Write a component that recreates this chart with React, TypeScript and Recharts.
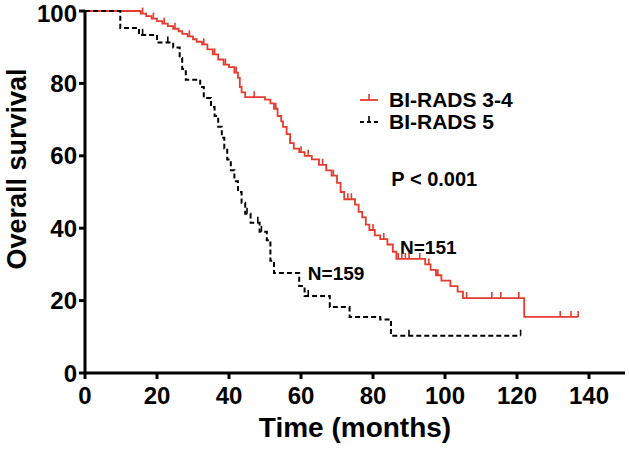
import React from 'react';
import {
  LineChart,
  Line,
  XAxis,
  YAxis,
  Legend,
  ReferenceDot,
  Label,
} from 'recharts';

// BI-RADS 3-4 (red): event times (months) and survival after each event
const redEventTimes = [0, 15.5, 17, 18.5, 20, 21.5, 23, 24.5, 26, 27, 28.5, 30, 31, 32.5, 34, 35.5, 37, 38.5, 40, 41.5, 42.5, 43, 43.5, 44.5, 50, 51.5, 52.5, 53.5, 54.5, 55, 56, 57, 58, 59.5, 61, 63, 65, 67, 68.5, 70, 71, 72, 75, 76, 77, 78, 79, 80.5, 82, 84, 85.5, 86.5, 94.5, 96, 97.5, 99, 101.5, 103.5, 105, 122];
const redEventSurvival = [100, 99.3, 98.6, 97.9, 97.2, 96.5, 95.8, 95.1, 94.4, 93.7, 93.0, 92.2, 91.5, 90.8, 89.4, 88.0, 86.6, 85.2, 84.5, 83.0, 81.5, 79, 77.5, 76.2, 75.5, 74.5, 73, 71, 69.5, 68, 66, 63.5, 62, 61, 60, 59, 57.5, 56, 54.5, 52.5, 50, 48, 46.5, 44.5, 43, 41, 39.5, 38, 37, 35.5, 33.5, 31.5, 30, 28.5, 27, 25.5, 24, 22.5, 20.7, 15.5];
const redCensorTimes = [16, 19, 22, 25, 29, 33, 36, 39, 42, 47, 53, 57, 60, 62, 66, 69, 73, 74, 80, 83, 87, 88, 89, 90, 93, 95.5, 98, 106, 113, 115.5, 120.5, 132, 135, 137];

// BI-RADS 5 (black dashed)
const blackEventTimes = [0, 9.8, 15, 20, 24.5, 26.3, 27, 28, 32, 33, 35, 36, 37, 38, 38.7, 39.5, 40.5, 41.5, 42.5, 43.5, 44.5, 46, 48.5, 50.5, 51.5, 52.5, 59.5, 61, 68, 73.5, 82, 85];
const blackEventSurvival = [100, 95.3, 93.4, 91.3, 89.9, 87, 84, 81, 79, 76, 73.5, 71, 68, 65, 62, 59, 56, 53, 50, 47, 44, 41.5, 39, 36.7, 31, 27.6, 24, 21.3, 18.2, 15.5, 14.8, 10.3];
const blackCensorTimes = [16, 23, 45, 48, 49, 62, 90, 121];

const xTicks = [0, 20, 40, 60, 80, 100, 120, 140];
const yTicks = [0, 20, 40, 60, 80, 100];

const RED = '#e63b2e';
const FONT = "'Liberation Sans', Arial, Helvetica, sans-serif";

type KMPoint = { t: number; s: number; censored: boolean };

// merge events and censored times into one step series
const buildCurve = (times: number[], surv: number[], censors: number[]): KMPoint[] => {
  const pts: KMPoint[] = times.map((t, i) => ({ t, s: surv[i], censored: false }));
  censors.forEach((c) => {
    let s = surv[0];
    times.forEach((t, i) => {
      if (t <= c) s = surv[i];
    });
    pts.push({ t: c, s, censored: true });
  });
  return pts.sort((a, b) => a.t - b.t || (a.censored ? 1 : -1));
};

const redData = buildCurve(redEventTimes, redEventSurvival, redCensorTimes);
const blackData = buildCurve(blackEventTimes, blackEventSurvival, blackCensorTimes);

const censorDot = (color: string) => (props: any) => {
  const { cx, cy, payload, index } = props;
  if (!payload || !payload.censored) return <g key={`d-${index}`} />;
  return (
    <line
      key={`d-${index}`}
      x1={cx}
      y1={cy}
      x2={cx}
      y2={cy - 6}
      stroke={color}
      strokeWidth={1.6}
    />
  );
};

const textAt = (value: string, size: number) => (props: any) => {
  const vb = props.viewBox || {};
  const x = vb.x + (vb.width || 0) / 2;
  const y = vb.y + (vb.height || 0) / 2;
  return (
    <text
      x={x}
      y={y}
      dy="0.35em"
      textAnchor="start"
      fontFamily={FONT}
      fontWeight="bold"
      fontSize={size}
      fill="#000"
    >
      {value}
    </text>
  );
};

const LegendBox = () => {
  const rows = [
    { name: 'BI-RADS 3-4', color: RED, dash: undefined },
    { name: 'BI-RADS 5', color: '#000', dash: '4 3' },
  ];
  return (
    <div style={{ fontFamily: FONT, fontWeight: 'bold', fontSize: 21, color: '#000' }}>
      {rows.map((r) => (
        <div key={r.name} style={{ display: 'flex', alignItems: 'center', height: 22 }}>
          <svg width={22} height={22}>
            <line x1={2} y1={11} x2={20} y2={11} stroke={r.color} strokeWidth={1.8} strokeDasharray={r.dash} />
            <line x1={11} y1={11} x2={11} y2={5} stroke={r.color} strokeWidth={1.6} />
          </svg>
          <span style={{ marginLeft: 9, lineHeight: '22px' }}>{r.name}</span>
        </div>
      ))}
    </div>
  );
};

const App = () => {
  const tickStyle = { fill: '#000', fontSize: 24, fontWeight: 'bold', fontFamily: FONT };
  return (
    <div style={{ position: 'absolute', left: 0, top: 0, background: '#fff' }}>
      <LineChart width={630} height={449} margin={{ top: 11, right: 5, left: 0, bottom: 0 }}>
        <XAxis
          type="number"
          dataKey="t"
          domain={[0, 150]}
          ticks={xTicks}
          allowDataOverflow
          height={76}
          stroke="#000"
          strokeWidth={3}
          tickSize={6}
          tickMargin={8}
          tickLine={{ stroke: '#000', strokeWidth: 3 }}
          tick={tickStyle}
        >
          <Label
            value="Time (months)"
            position="insideBottom"
            offset={12}
            style={{ fontFamily: FONT, fontWeight: 'bold', fontSize: 28, fill: '#000' }}
          />
        </XAxis>
        <YAxis
          type="number"
          domain={[0, 100]}
          ticks={yTicks}
          width={85}
          stroke="#000"
          strokeWidth={3}
          tickSize={6}
          tickMargin={2}
          tickLine={{ stroke: '#000', strokeWidth: 3 }}
          tick={tickStyle}
        >
          <Label
            content={() => (
              <text
                x={0}
                y={0}
                transform="translate(26,169) rotate(-90)"
                textAnchor="middle"
                fontFamily={FONT}
                fontWeight="bold"
                fontSize={27}
                fill="#000"
              >
                Overall survival
              </text>
            )}
          />
        </YAxis>
        <Legend
          layout="vertical"
          align="center"
          verticalAlign="middle"
          wrapperStyle={{ left: 358, top: 89, width: 'auto' }}
          content={() => <LegendBox />}
        />
        <Line
          data={redData}
          dataKey="s"
          type="stepAfter"
          stroke={RED}
          strokeWidth={1.8}
          dot={censorDot(RED)}
          activeDot={false}
          isAnimationActive={false}
        />
        <Line
          data={blackData}
          dataKey="s"
          type="stepAfter"
          stroke="#000"
          strokeWidth={2}
          strokeDasharray="5 3"
          dot={censorDot('#000')}
          activeDot={false}
          isAnimationActive={false}
        />
        <ReferenceDot x={85.1} y={53.5} r={0} fill="none" stroke="none" label={textAt('P < 0.001', 20)} />
        <ReferenceDot x={87.5} y={34.8} r={0} fill="none" stroke="none" label={textAt('N=151', 19)} />
        <ReferenceDot x={61.9} y={27.6} r={0} fill="none" stroke="none" label={textAt('N=159', 19)} />
      </LineChart>
    </div>
  );
};

export default App;
